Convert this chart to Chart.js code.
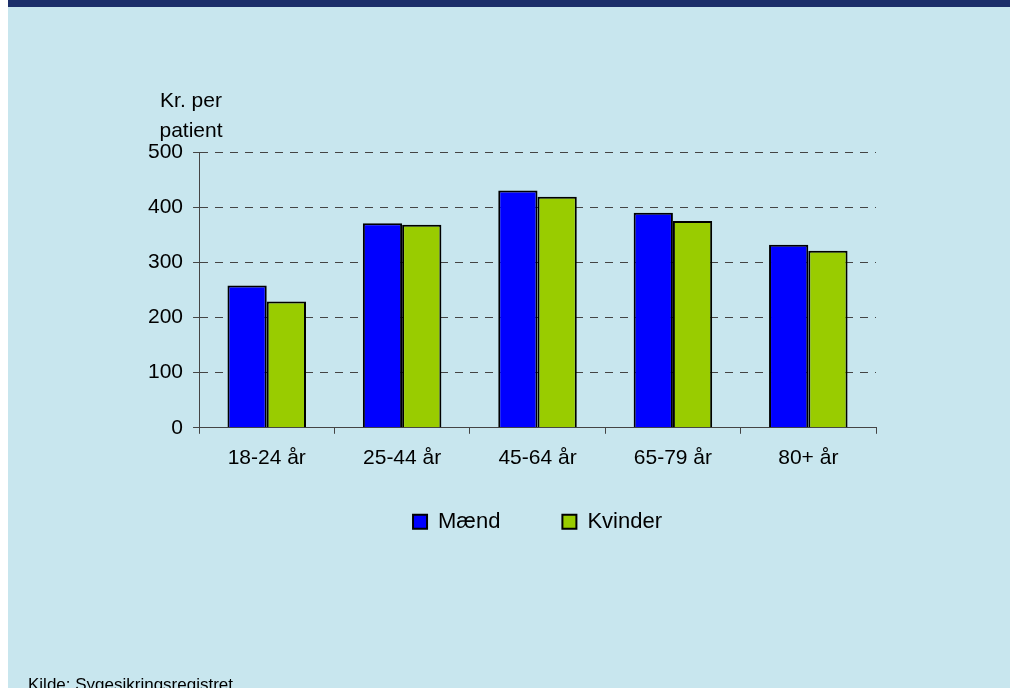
<!DOCTYPE html>
<html>
<head>
<meta charset="utf-8">
<script src="https://cdn.jsdelivr.net/npm/chart.js@4"></script>
<style>
  body { margin: 0; width: 1010px; height: 688px; overflow: hidden; background: #fff; position: relative; }
  #panel { position: absolute; left: 8px; top: 0; width: 1002px; height: 688px; background: #c8e6ee; }
  #topbar { position: absolute; left: 8px; top: 0; width: 1002px; height: 7px; background: #1c2f6a; }
  #chart { position: absolute; left: 0; top: 0; }
  #source { position: absolute; left: 28px; top: 676px; font: 17px/17px 'Liberation Sans', Arial, sans-serif; color: #000; white-space: nowrap; }
</style>
</head>
<body>
<div id="panel"></div>
<div id="topbar"></div>
<canvas id="chart" width="1010" height="688"></canvas>
<div id="source">Kilde: Sygesikringsregistret</div>
<script>
// data
const categories = ['18-24 år', '25-44 år', '45-64 år', '65-79 år', '80+ år'];
const maend = [258, 371, 430, 390, 332];
const kvinder = [229, 368, 419, 375, 321];
const seriesNames = ['Mænd', 'Kvinder'];
const yTitleLines = ['Kr. per', 'patient'];
const yMin = 0, yMax = 500, yStep = 100;

Chart.defaults.font.family = "'Liberation Sans', Arial, sans-serif";
Chart.defaults.color = '#000';

const legendPad = 62;

// y-axis caption above the value labels
const yTitle = {
  id: 'yTitle',
  afterDraw(chart) {
    const {ctx, chartArea} = chart;
    ctx.save();
    ctx.font = "21px 'Liberation Sans', Arial, sans-serif";
    ctx.fillStyle = '#000';
    ctx.textAlign = 'center';
    ctx.textBaseline = 'alphabetic';
    yTitleLines.forEach((t, i) => {
      ctx.fillText(t, chartArea.left - 8, chartArea.top - 45 + i * 30);
    });
    ctx.restore();
  }
};

// labels.padding also sets the gap between items, so move the legend up to sit ~83px under the axis
const nudgeLegend = {
  id: 'nudgeLegend',
  afterLayout(chart) {
    const lg = chart.legend;
    const shift = (chart.chartArea.bottom + 83 - legendPad) - lg.top;
    lg.top += shift;
    lg.bottom += shift;
  }
};

new Chart(document.getElementById('chart'), {
  type: 'bar',
  data: {
    labels: categories,
    datasets: [
      { label: seriesNames[0], data: maend, backgroundColor: '#0000ff' },
      { label: seriesNames[1], data: kvinder, backgroundColor: '#99cc00' }
    ]
  },
  options: {
    responsive: false,
    animation: false,
    layout: { padding: { left: 138, right: 134, top: 152, bottom: 111 } },
    datasets: {
      bar: {
        borderColor: '#000',
        borderWidth: 2,
        categoryPercentage: 0.58,
        barPercentage: 1
      }
    },
    plugins: {
      legend: {
        position: 'bottom',
        fullSize: false,
        labels: {
          boxWidth: 14,
          boxHeight: 14,
          padding: legendPad,
          font: { size: 22 },
          color: '#000'
        }
      },
      tooltip: { enabled: false }
    },
    scales: {
      x: {
        grid: { drawOnChartArea: false, tickLength: 6, tickColor: '#444' },
        border: { color: '#444', width: 1 },
        ticks: { font: { size: 21 }, padding: 12, color: '#000' }
      },
      y: {
        min: yMin,
        max: yMax,
        grid: {
          color: (c) => (c.tick && c.tick.value === 0 ? 'rgba(0,0,0,0)' : '#444'),
          tickColor: '#444',
          tickLength: 6,
          tickBorderDash: []
        },
        border: { color: '#444', width: 1, dash: [8, 7] },
        ticks: { stepSize: yStep, font: { size: 21 }, padding: 10, color: '#000' }
      }
    }
  },
  plugins: [yTitle, nudgeLegend]
});
</script>
</body>
</html>
